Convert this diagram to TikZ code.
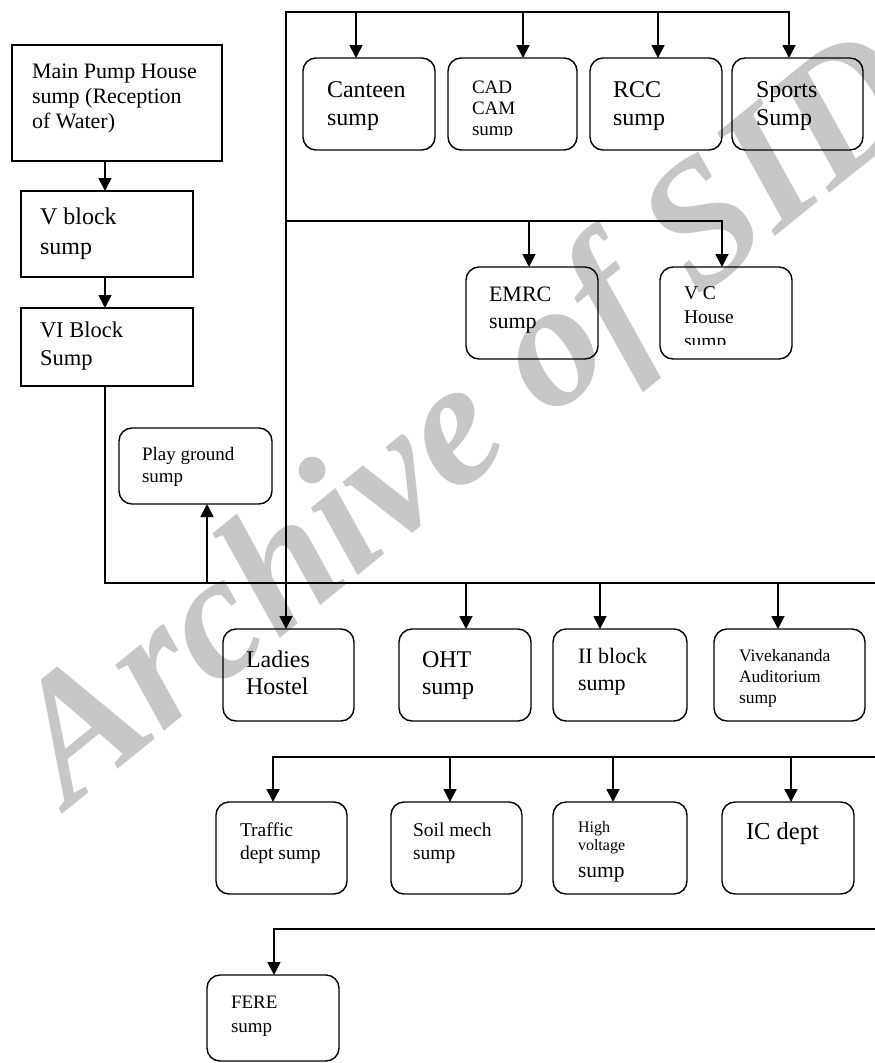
\documentclass[tikz,border=0pt]{standalone}
\usepackage{fontspec}
\setmainfont{Liberation Serif}
\usetikzlibrary{arrows.meta,calc}
\newcommand\myfs[2]{\fontsize{#1}{#2}\selectfont}
\tikzset{
  sq/.style={draw, line width=1.4pt, rectangle, anchor=north west, inner sep=0pt, outer sep=0pt},
  rb/.style={sq, rounded corners=13pt},
  lbl/.style={anchor=base west, inner sep=0pt, outer sep=0pt},
  wire/.style={line width=1.8pt},
  tip/.tip={Triangle[length=13pt,width=13pt]},
  arr/.style={wire, -tip},
  watermark/.style={rotate=39, text=black!22, anchor=base, inner sep=0pt}
}
\begin{document}
\begin{tikzpicture}[x=1pt,y=-1pt]
\useasboundingbox (0,0) rectangle (875,1063);
\fill[white] (0,0) rectangle (875,1063);
% watermark
\begin{scope}
\clip (0,0) rectangle (875,1063);
\node[watermark, font=\myfs{178}{178}\bfseries\itshape] (wm) at (500,460) {Archive of SID};
\end{scope}

% ---- boxes ----
\node[sq, minimum width=210pt, minimum height=116pt] (main) at (12,45) {};
\node[sq, minimum width=172pt, minimum height=86pt] (vb) at (21,191) {};
\node[sq, minimum width=172pt, minimum height=78pt] (vib) at (21,308) {};
\node[rb, minimum width=153pt, minimum height=76pt] (play) at (119,428) {};
\node[rb, minimum width=132pt, minimum height=92pt] (canteen) at (303,58) {};
\node[rb, minimum width=129pt, minimum height=92pt] (cad) at (448,58) {};
\node[rb, minimum width=132pt, minimum height=92pt] (rcc) at (590,58) {};
\node[rb, minimum width=131pt, minimum height=92pt] (sports) at (732,58) {};
\node[rb, minimum width=132pt, minimum height=92pt] (emrc) at (466,267) {};
\node[rb, minimum width=132pt, minimum height=92pt] (vch) at (660,267) {};
\node[rb, minimum width=131pt, minimum height=92pt] (ladies) at (223,629) {};
\node[rb, minimum width=132pt, minimum height=92pt] (oht) at (399,629) {};
\node[rb, minimum width=134pt, minimum height=92pt] (iib) at (553,629) {};
\node[rb, minimum width=151pt, minimum height=92pt] (vivek) at (714,629) {};
\node[rb, minimum width=131pt, minimum height=92pt] (traffic) at (216,802) {};
\node[rb, minimum width=131pt, minimum height=92pt] (soil) at (391,802) {};
\node[rb, minimum width=134pt, minimum height=92pt] (hv) at (553,802) {};
\node[rb, minimum width=132pt, minimum height=92pt] (ic) at (722,802) {};
\node[rb, minimum width=132pt, minimum height=86pt] (fere) at (207,975) {};

% ---- texts ----
\node[lbl] (tmain) at (32,78) {\myfs{22}{25}\vtop{\hbox{Main Pump House}\hbox{sump (Reception}\hbox{of Water)}}};
\node[lbl] (tvb) at (40,224) {\myfs{24}{30}\vtop{\hbox{V block}\hbox{sump}}};
\node[lbl] (tvib) at (40,337) {\myfs{22.5}{28}\vtop{\hbox{VI Block}\hbox{Sump}}};
\node[lbl] (tplay) at (142,460) {\myfs{19}{22}\vtop{\hbox{Play ground}\hbox{sump}}};
\node[lbl] (tcanteen) at (327,97) {\myfs{24}{28}\vtop{\hbox{Canteen}\hbox{sump}}};
\begin{scope}
\clip (448,58) rectangle (577,135.5);
\node[lbl] (tcad) at (472,93) {\myfs{19}{21}\vtop{\hbox{CAD}\hbox{CAM}\hbox{sump}}};
\end{scope}
\node[lbl] (trcc) at (613,97) {\myfs{24}{28}\vtop{\hbox{RCC}\hbox{sump}}};
\node[lbl] (tsports) at (756,97) {\myfs{24}{28}\vtop{\hbox{Sports}\hbox{Sump}}};
\node[lbl] (temrc) at (489,301) {\myfs{22}{27}\vtop{\hbox{EMRC}\hbox{sump}}};
\begin{scope}
\clip (660,267) rectangle (792,344);
\node[lbl] (tvch) at (684,299) {\myfs{19.5}{24}\vtop{\hbox{V C}\hbox{House}\hbox{sump}}};
\end{scope}
\node[lbl] (tladies) at (246,667) {\myfs{24}{27}\vtop{\hbox{Ladies}\hbox{Hostel}}};
\node[lbl] (toht) at (422,667) {\myfs{24}{27}\vtop{\hbox{OHT}\hbox{sump}}};
\node[lbl] (tiib) at (578,663) {\myfs{22}{27}\vtop{\hbox{II block}\hbox{sump}}};
\node[lbl] (tvivek) at (739,661) {\myfs{17.5}{21}\vtop{\hbox{Vivekananda}\hbox{Auditorium}\hbox{sump}}};
\node[lbl] (ttraffic) at (240,836) {\myfs{19.5}{23}\vtop{\hbox{Traffic}\hbox{dept sump}}};
\node[lbl] (tsoil) at (413,836) {\myfs{19.5}{23}\vtop{\hbox{Soil mech}\hbox{sump}}};
\node[lbl] (thv) at (578,832) {\vtop{\myfs{16}{18}\hbox{High}\hbox{voltage}\myfs{21.5}{27}\hbox{sump}}};
\node[lbl] (tic) at (746,839) {\myfs{24.5}{28}IC dept};
\node[lbl] (tfere) at (231,1008) {\myfs{19}{24}\vtop{\hbox{FERE}\hbox{sump}}};

% ---- connector coordinates ----
\coordinate (topL) at (286,12);
\coordinate (midL) at (286,221);
\coordinate (b1E) at (875,583);
\coordinate (b2E) at (875,757);
\coordinate (b3E) at (875,929);
\coordinate (mainOut) at ($(main.south west)+(93,0)$);
\coordinate (vbOut) at ($(vb.south west)+(84,0)$);
\coordinate (vibOut) at ($(vib.south west)+(84,0)$);
\coordinate (playIn) at ($(play.south west)+(88,0)$);
\coordinate (canIn) at ($(canteen.north west)+(53,0)$);
\coordinate (cadIn) at ($(cad.north west)+(75,0)$);
\coordinate (rccIn) at ($(rcc.north west)+(68,0)$);
\coordinate (sportsIn) at ($(sports.north west)+(57,0)$);
\coordinate (emrcIn) at ($(emrc.north west)+(63,0)$);
\coordinate (vchIn) at ($(vch.north west)+(62,0)$);
\coordinate (ladIn) at ($(ladies.north west)+(63,0)$);
\coordinate (ohtIn) at ($(oht.north west)+(67,0)$);
\coordinate (iibIn) at ($(iib.north west)+(47,0)$);
\coordinate (vivIn) at ($(vivek.north west)+(64,0)$);
\coordinate (trafIn) at ($(traffic.north west)+(57,0)$);
\coordinate (soilIn) at ($(soil.north west)+(59,0)$);
\coordinate (hvIn) at ($(hv.north west)+(60,0)$);
\coordinate (icIn) at ($(ic.north west)+(69,0)$);
\coordinate (fereIn) at ($(fere.north west)+(67,0)$);

% ---- connectors ----
\draw[arr] (mainOut) -- (mainOut |- vb.north);
\draw[arr] (vbOut) -- (vbOut |- vib.north);
\draw[wire] (vibOut) -- (vibOut |- b1E) -- (b1E);
\draw[arr] (playIn |- b1E) -- (playIn);
% top trunk
\draw[wire, tip-tip] (ladIn) -- (topL) -- (sportsIn |- topL) -- (sportsIn);
\draw[arr] (canIn |- topL) -- (canIn);
\draw[arr] (cadIn |- topL) -- (cadIn);
\draw[arr] (rccIn |- topL) -- (rccIn);
\draw[arr] (midL) -- (vchIn |- midL) -- (vchIn);
\draw[arr] (emrcIn |- midL) -- (emrcIn);
% bus 1
\draw[arr] (ohtIn |- b1E) -- (ohtIn);
\draw[arr] (iibIn |- b1E) -- (iibIn);
\draw[arr] (vivIn |- b1E) -- (vivIn);
% bus 2
\draw[arr] (b2E) -- (trafIn |- b2E) -- (trafIn);
\draw[arr] (soilIn |- b2E) -- (soilIn);
\draw[arr] (hvIn |- b2E) -- (hvIn);
\draw[arr] (icIn |- b2E) -- (icIn);
% bus 3
\draw[arr] (b3E) -- (fereIn |- b3E) -- (fereIn);
\end{tikzpicture}
\end{document}
